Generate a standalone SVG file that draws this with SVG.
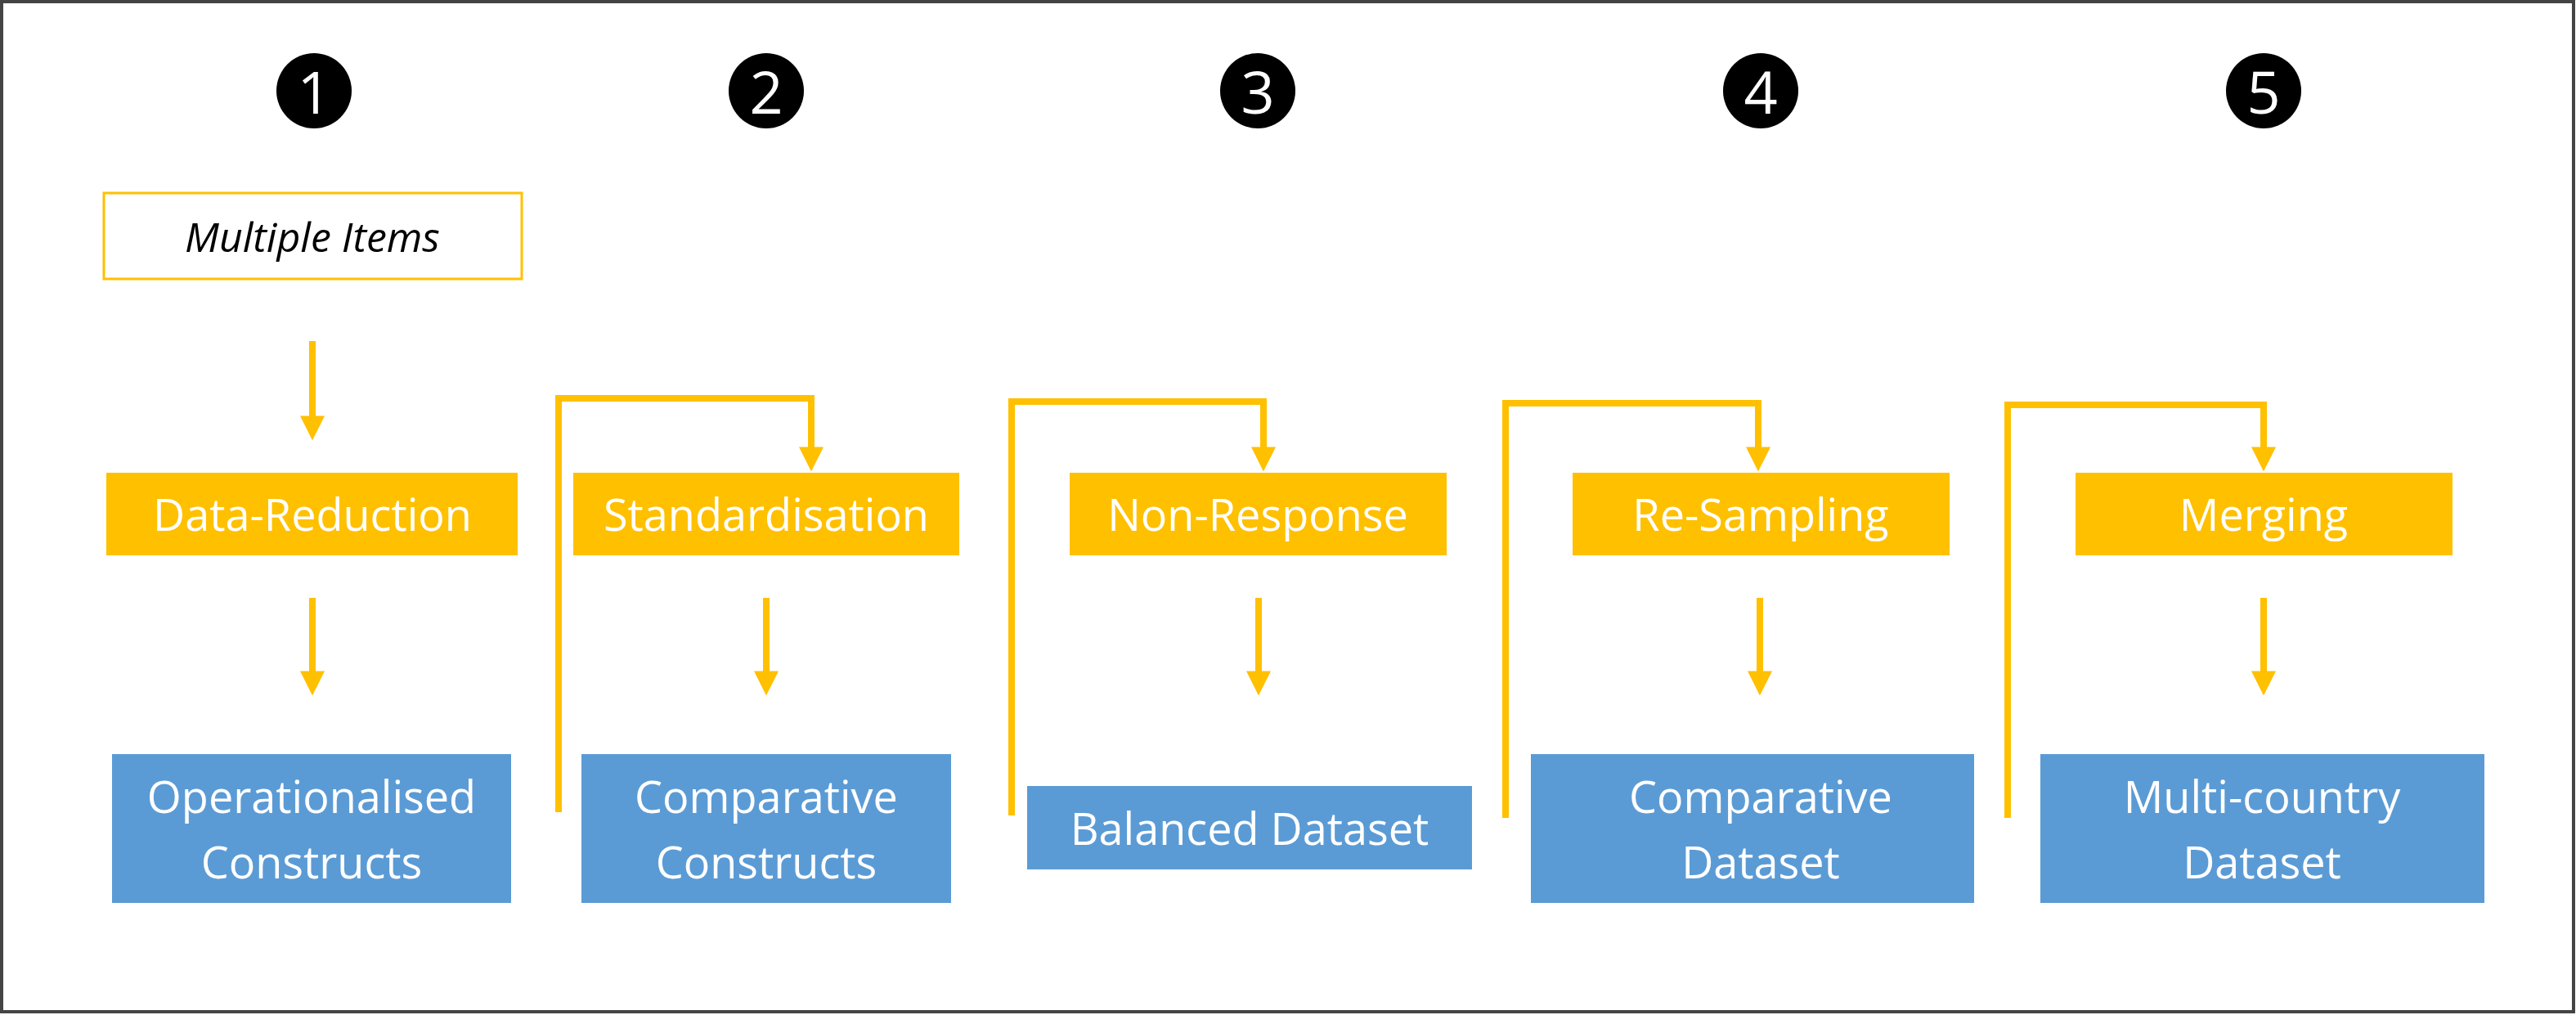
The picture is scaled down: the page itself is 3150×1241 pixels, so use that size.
<svg xmlns="http://www.w3.org/2000/svg" width="3150" height="1241" viewBox="0 0 3150 1241">
<style>
.y{fill:#FFC000}.b{fill:#5B9BD5}
.t{font-family:"Open Sans","Noto Sans",sans-serif;font-size:54px;fill:#fff;text-anchor:middle;dominant-baseline:central}
.n{font-family:"Open Sans","Noto Sans",sans-serif;font-size:72px;fill:#fff;text-anchor:middle;dominant-baseline:central}
.c{fill:none;stroke:#FFC000;stroke-width:8}
</style>
<defs><marker id="ah" markerUnits="userSpaceOnUse" markerWidth="30" markerHeight="30" viewBox="0 -14 28 28" refX="8" refY="0" orient="auto"><path d="M0,-14L28,0L0,14z" fill="#FFC000"/></marker></defs>
<rect x="2" y="2" width="3145" height="1235" fill="#fff" stroke="#444" stroke-width="4"/>
<g id="num1"><circle cx="384" cy="111" r="46" fill="#000"/><text class="n" x="384" y="111">1</text></g>
<g id="num2"><circle cx="937" cy="111" r="46" fill="#000"/><text class="n" x="937" y="111">2</text></g>
<g id="num3"><circle cx="1538" cy="111" r="46" fill="#000"/><text class="n" x="1538" y="111">3</text></g>
<g id="num4"><circle cx="2153" cy="111" r="46" fill="#000"/><text class="n" x="2153" y="111">4</text></g>
<g id="num5"><circle cx="2768" cy="111" r="46" fill="#000"/><text class="n" x="2768" y="111">5</text></g>
<g id="items"><rect x="127" y="236" width="511" height="105" fill="#fff" stroke="#FFC000" stroke-width="3"/><text class="t" x="382" y="289" style="fill:#000;font-style:italic;font-size:50px">Multiple Items</text></g>
<g id="dr"><rect class="y" x="130" y="578" width="503" height="101"/><text class="t" x="382" y="628">Data-Reduction</text></g>
<g id="st"><rect class="y" x="701" y="578" width="472" height="101"/><text class="t" x="937" y="628">Standardisation</text></g>
<g id="nr"><rect class="y" x="1308" y="578" width="461" height="101"/><text class="t" x="1538" y="628">Non-Response</text></g>
<g id="rs"><rect class="y" x="1923" y="578" width="461" height="101"/><text class="t" x="2153" y="628">Re-Sampling</text></g>
<g id="mg"><rect class="y" x="2538" y="578" width="461" height="101"/><text class="t" x="2768" y="628">Merging</text></g>
<g id="oc"><rect class="b" x="137" y="922" width="488" height="182"/><text class="t" x="381" y="973">Operationalised</text><text class="t" x="381" y="1053">Constructs</text></g>
<g id="cc"><rect class="b" x="711" y="922" width="452" height="182"/><text class="t" x="937" y="973">Comparative</text><text class="t" x="937" y="1053">Constructs</text></g>
<g id="bd"><rect class="b" x="1256" y="961" width="544" height="102"/><text class="t" x="1528" y="1012">Balanced Dataset</text></g>
<g id="cd"><rect class="b" x="1872" y="922" width="542" height="182"/><text class="t" x="2153" y="973">Comparative</text><text class="t" x="2153" y="1053">Dataset</text></g>
<g id="md"><rect class="b" x="2495" y="922" width="543" height="182"/><text class="t" x="2766" y="973">Multi-country</text><text class="t" x="2766" y="1053">Dataset</text></g>
<g id="connectors">
<path class="c" d="M382,417V517" marker-end="url(#ah)"/>
<path class="c" d="M382,731V829" marker-end="url(#ah)"/>
<path class="c" d="M937,731V829" marker-end="url(#ah)"/>
<path class="c" d="M1539,731V829" marker-end="url(#ah)"/>
<path class="c" d="M2152,731V829" marker-end="url(#ah)"/>
<path class="c" d="M2768,731V829" marker-end="url(#ah)"/>
<path class="c" d="M683,993V487H992V555" marker-end="url(#ah)"/>
<path class="c" d="M1237,997V491H1545V555" marker-end="url(#ah)"/>
<path class="c" d="M1841,1000V493H2150V555" marker-end="url(#ah)"/>
<path class="c" d="M2455,1000V495H2768V555" marker-end="url(#ah)"/>
</g>
</svg>
